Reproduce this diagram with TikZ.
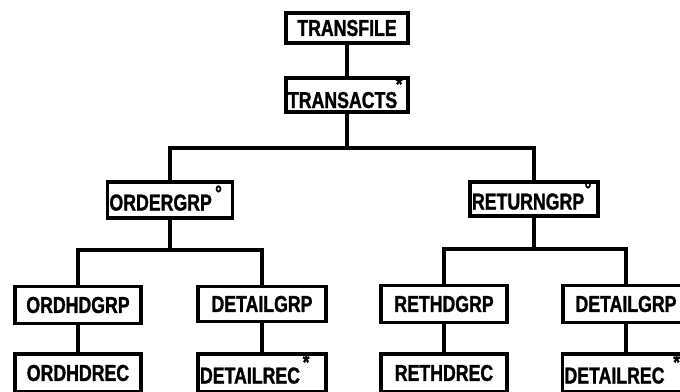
\documentclass[tikz,border=0pt]{standalone}
\usepackage{fontspec}
\setmainfont{Liberation Sans}[FakeStretch=0.77, BoldFeatures={FakeBold=1.3}]
\begin{document}
\begin{tikzpicture}[x=1pt,y=-1pt,
  every node/.style={font=\fontsize{23}{25}\selectfont\bfseries},
  box/.style={draw, line width=3.2pt, inner sep=0pt, minimum width=126pt, minimum height=36pt},
  markbox/.style={box, text width=#1, align=left, text height=24pt, text depth=3pt},
  marker/.style={anchor=north east, inner sep=0pt, font=\fontsize{22}{22}\selectfont\bfseries},
  link/.style={line width=3.4pt, line join=miter, line cap=rect}]
\useasboundingbox (0,0) rectangle (680,391);
% nodes
\node[box, minimum width=122pt, minimum height=30pt] (tf) at (347,28) {TRANSFILE};
\node[markbox=118pt, minimum width=122pt, minimum height=34pt, text height=27pt, text depth=1pt,
  label={[marker, xshift=-7pt, yshift=0pt]north east:*}] (ta) at (347,95) {TRANSACTS};
\node[markbox=121pt, minimum width=125pt,
  label={[marker, xshift=-12pt, yshift=-5pt]north east:°}] (og) at (170,200) {ORDERGRP};
\node[markbox=124pt, minimum width=128pt, minimum height=34pt,
  label={[marker, xshift=-8pt, yshift=-1pt]north east:°}] (rg) at (534,199) {RETURNGRP};
\node[box, minimum height=37pt] (oh) at (78,305) {ORDHDGRP};
\node[box, minimum height=35pt, minimum width=128pt] (dg1) at (262,304) {DETAILGRP};
\node[box, minimum height=37pt] (rh) at (444,304) {RETHDGRP};
\node[box, minimum height=37pt] (dg2) at (626,304) {DETAILGRP};
\node[box, minimum height=38pt] (or) at (78,373) {ORDHDREC};
\node[markbox=124pt, minimum width=128pt, minimum height=38pt,
  label={[marker, xshift=-18pt, yshift=-2pt]north east:*}] (dr1) at (262,373) {DETAILREC};
\node[box, minimum height=38pt] (rr) at (444,373) {RETHDREC};
\node[markbox=123pt, minimum width=127pt, minimum height=38pt,
  label={[marker, xshift=-11pt, yshift=-2pt]north east:*}] (dr2) at (626,373) {DETAILREC};
% connector levels
\coordinate (bar) at (0,148);
\coordinate (suba) at (0,250);
\coordinate (subb) at (0,249);
% connectors
\draw[link] (tf.south) -- (ta.north);
\draw[link] (ta.south) -- (ta.south |- bar);
\draw[link] (og.north) |- (rg.north |- bar) -- (rg.north);
\draw[link] (og.south) -- (og.south |- suba);
\draw[link] (oh.north) |- (dg1.north |- suba) -- (dg1.north);
\draw[link] (rg.south) -- (rg.south |- subb);
\draw[link] (rh.north) |- (dg2.north |- subb) -- (dg2.north);
\draw[link] (oh.south) -- (or.north);
\draw[link] (dg1.south) -- (dr1.north);
\draw[link] (rh.south) -- (rr.north);
\draw[link] (dg2.south) -- (dr2.north);
\end{tikzpicture}
\end{document}
